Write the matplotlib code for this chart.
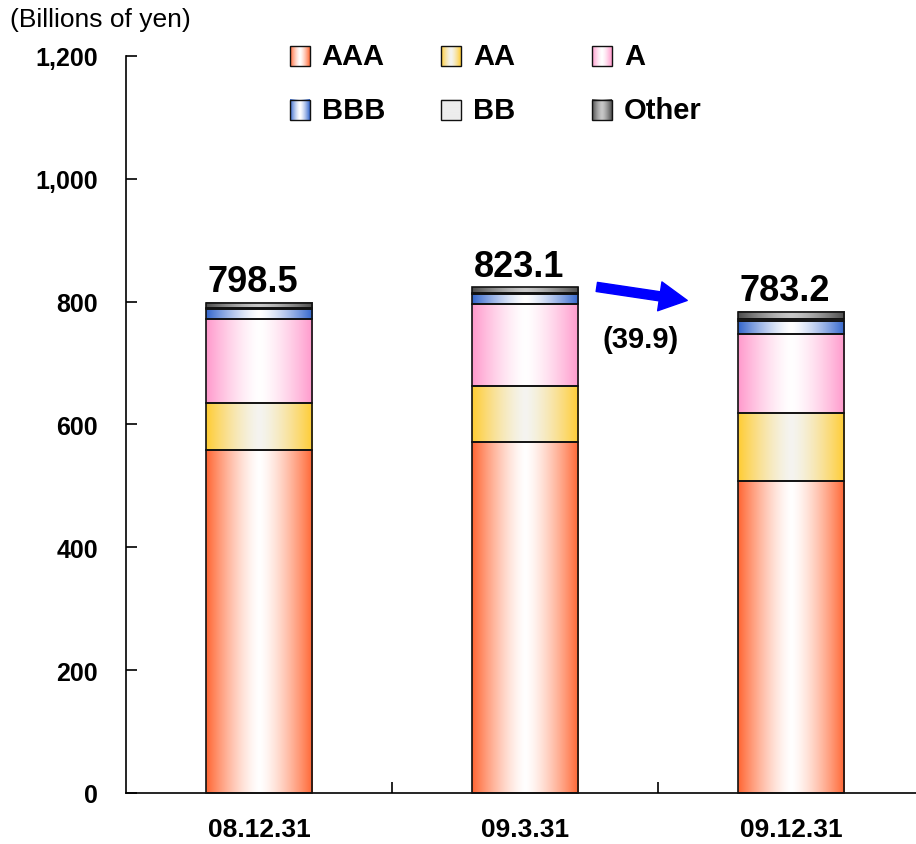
import numpy as np
import matplotlib
matplotlib.use("Agg")
import matplotlib.pyplot as plt
from matplotlib.patches import Rectangle
from matplotlib.colors import to_rgb

plt.rcParams['font.family'] = ['Liberation Sans', 'DejaVu Sans']

# dados (bilhoes de ienes)
datas = ['08.12.31', '09.3.31', '09.12.31']
ratings = ['AAA', 'AA', 'A', 'BBB', 'BB', 'Other']
aaa = [558.0, 571.0, 507.5]
aa = [77.0, 92.0, 111.0]
a = [136.0, 133.0, 128.5]
bbb = [17.0, 16.0, 22.0]
bb = [1.0, 2.0, 2.0]
other = [9.5, 9.1, 12.2]
totais = ['798.5', '823.1', '783.2']
variacao = '(39.9)'

series = [aaa, aa, a, bbb, bb, other]

# cor da borda e cor do centro de cada gradiente
cores = {
    'AAA': ('#FF6633', '#FFFFFF'),
    'AA': ('#FFCC33', '#F4F4F0'),
    'A': ('#FF99CC', '#FFFFFF'),
    'BBB': ('#3366CC', '#FFFFFF'),
    'BB': ('#EDEDED', '#EDEDED'),
    'Other': ('#4D4D4D', '#C8C8C8'),
}


def gradiente(borda, centro, n=200):
    '''Gera a imagem do gradiente horizontal (borda -> centro -> borda)'''
    t = np.abs(np.linspace(-1, 1, n)) ** 1.4
    b = np.array(to_rgb(borda))
    c = np.array(to_rgb(centro))
    img = c[None, :] + (b - c)[None, :] * t[:, None]
    return img[None, :, :]


def caixa(ax, x0, x1, y0, y1, nome, transform=None, lw=1.2):
    '''Desenha um retangulo com gradiente e contorno'''
    borda, centro = cores[nome]
    kw = {}
    if transform is not None:
        kw['transform'] = transform
    ax.imshow(gradiente(borda, centro), extent=(x0, x1, y0, y1), aspect='auto',
              interpolation='bilinear', zorder=2, clip_on=False, **kw)
    ax.add_patch(Rectangle((x0, y0), x1 - x0, y1 - y0, fill=False,
                           edgecolor='#111111', linewidth=lw, zorder=3,
                           clip_on=False, **kw))


fig = plt.figure(figsize=(9.16, 8.45), dpi=100)
ax = fig.add_axes([126 / 916, 51 / 845, 798 / 916, 737 / 845])

largura = 0.40
for i in range(len(datas)):
    base = 0.0
    for nome, valores in zip(ratings, series):
        v = valores[i]
        caixa(ax, i - largura / 2, i + largura / 2, base, base + v, nome)
        base += v
    ax.text(i - 0.022, base + 19, totais[i], ha='center', va='baseline',
            fontsize=26, fontweight='bold')

# seta de variacao
ax.annotate('', xy=(1.61, 802), xytext=(1.27, 824),
            arrowprops=dict(arrowstyle='simple,head_width=1.05,head_length=1.0,tail_width=0.33',
                            color='#0000FF', shrinkA=0, shrinkB=0, mutation_scale=20))
ax.text(1.436, 739, variacao, ha='center', va='center', fontsize=21, fontweight='bold')

# legenda manual
leg_x = [0.205, 0.395, 0.584]
leg_y = [1.0, 0.927]
sw, sh = 20 / 798, 20 / 737
for k, nome in enumerate(ratings):
    cx = leg_x[k % 3]
    cy = leg_y[k // 3]
    caixa(ax, cx, cx + sw, cy - sh / 2, cy + sh / 2, nome, transform=ax.transAxes, lw=1.0)
    ax.text(cx + sw + 0.015, cy, nome, transform=ax.transAxes, ha='left', va='center',
            fontsize=21, fontweight='bold')

ax.set_xlim(-0.5, 2.5)
ax.set_ylim(0, 1200)

ax.spines['top'].set_visible(False)
ax.spines['right'].set_visible(False)
ax.spines['left'].set_linewidth(1.2)
ax.spines['bottom'].set_linewidth(1.2)

ax.set_yticks(range(0, 1201, 200))
ax.set_yticklabels(['{:,}'.format(v) for v in range(0, 1201, 200)],
                   fontsize=18, fontweight='bold')
ax.tick_params(axis='y', direction='in', length=8, width=1.2, pad=20)

ax.set_xticks([0.5, 1.5])
ax.set_xticklabels([])
ax.tick_params(axis='x', which='major', direction='in', length=8, width=1.2)
ax.set_xticks(range(len(datas)), minor=True)
ax.set_xticklabels(datas, minor=True, fontsize=19, fontweight='bold',
                   family=['Liberation Sans Narrow', 'Liberation Sans'])
ax.tick_params(axis='x', which='minor', length=0, pad=17)

fig.text(10 / 916, 1 - 20 / 845, '(Billions of yen)', ha='left', va='center', fontsize=19)

fig.savefig('out.png', dpi=100)
